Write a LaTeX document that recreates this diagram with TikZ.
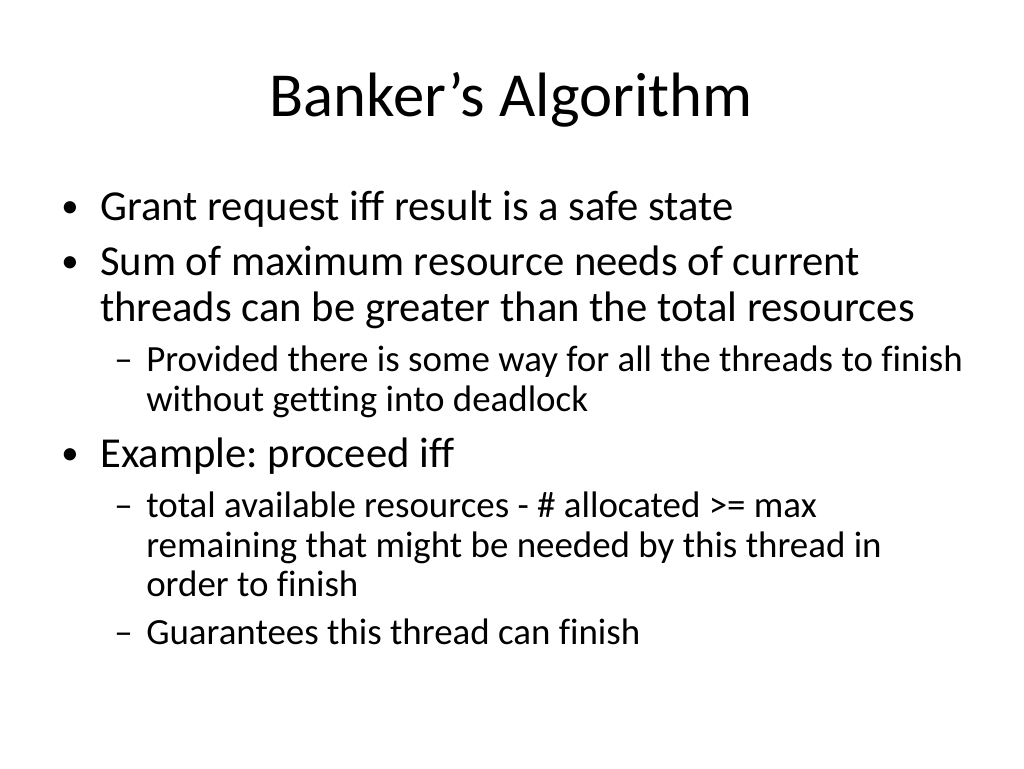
\documentclass[tikz,border=0pt]{standalone}
\usepackage{fontspec}
\setmainfont{Carlito}[Ligatures=NoCommon]
\frenchspacing
\begin{document}
\begin{tikzpicture}[x=0.75pt,y=-0.75pt,
 t/.style={anchor=base west,inner sep=0pt},
 lone/.style={t,font=\fontsize{32}{40}\selectfont},
 ltwo/.style={t,font=\fontsize{27.7}{34}\selectfont},
 bul/.style={t,font=\fontsize{26}{30}\selectfont}]
\useasboundingbox (0,0) rectangle (1024,768);
\node[anchor=base,inner sep=0pt,font=\fontsize{47}{56}\selectfont] (title) at (511,116) {Banker’s Algorithm};
\node[bul] (b1) at (61,217) {•};
\node[lone] (l1) at (100,220) {Grant request iff result is a safe state};
\node[bul] (b2) at (61,272) {•};
\node[lone] (l2) at (100,275) {Sum of maximum resource needs of current};
\node[lone] (l3) at (100,321) {threads can be greater than the total resources};
\node[ltwo] (d1) at (114,371) {–};
\node[ltwo] (l4) at (146,371) {Provided there is some way for all the threads to finish};
\node[ltwo] (l5) at (146,411) {without getting into deadlock};
\node[bul] (b3) at (61,464) {•};
\node[lone] (l6) at (100,467) {Example: proceed iff};
\node[ltwo] (d2) at (114,517) {–};
\node[ltwo] (l7) at (146,517) {total available resources - \# allocated >= max};
\node[ltwo] (l8) at (146,557) {remaining that might be needed by this thread in};
\node[ltwo] (l9) at (146,596) {order to finish};
\node[ltwo] (d3) at (114,644) {–};
\node[ltwo] (l10) at (146,644) {Guarantees this thread can finish};
\end{tikzpicture}
\end{document}
